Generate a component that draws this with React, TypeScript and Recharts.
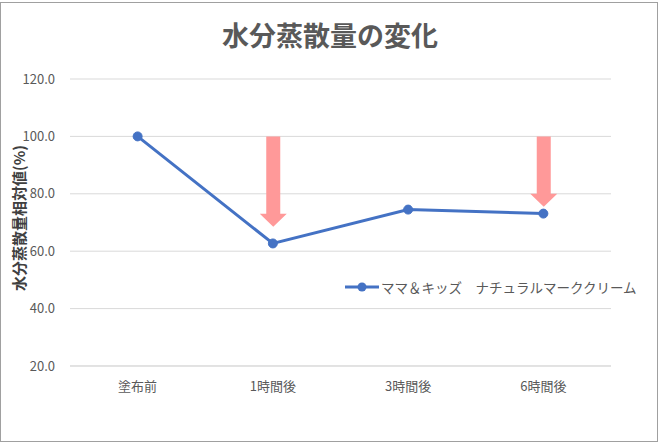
import { Bar, CartesianGrid, ComposedChart, Legend, Line, XAxis, YAxis } from "recharts";

const categories = ["塗布前", "1時間後", "3時間後", "6時間後"];
const seriesName = "ママ＆キッズ　ナチュラルマーククリーム";
const values = [100.0, 62.7, 74.5, 73.1];
// pink arrows: from arrowTop down to arrowTip (value units)
const arrowTop = [null, 100, null, 100];
const arrowTip = [null, 68.5, null, 75.5];
const yTicks = [20, 40, 60, 80, 100, 120];

const data = categories.map((name, i) => ({
  name,
  value: values[i],
  arrow: arrowTop[i] != null ? [arrowTip[i], arrowTop[i]] : undefined,
}));

const FONT = "'Noto Sans CJK JP', 'Noto Sans', sans-serif";
const TEXT = "#595959";

function ArrowShape(props: any) {
  const { x, y, width, height } = props;
  if (height == null || height <= 0) return null;
  const headH = 13;
  const headW = 27;
  const cx = x + width / 2;
  const bottom = y + height;
  const pts = [
    [x, y],
    [x + width, y],
    [x + width, bottom - headH],
    [cx + headW / 2, bottom - headH],
    [cx, bottom],
    [cx - headW / 2, bottom - headH],
    [x, bottom - headH],
  ]
    .map((p) => p.join(","))
    .join(" ");
  return <polygon points={pts} fill="#FF9999" />;
}

function LegendContent() {
  return (
    <div style={{ display: "flex", alignItems: "center", fontFamily: FONT, fontSize: 13.5, color: TEXT, whiteSpace: "nowrap" }}>
      <svg width={34} height={12} style={{ marginRight: 2 }}>
        <line x1={0} y1={6} x2={34} y2={6} stroke="#4472C4" strokeWidth={3} />
        <circle cx={17} cy={6} r={4.5} fill="#4472C4" />
      </svg>
      <span>{seriesName}</span>
    </div>
  );
}

export default function App() {
  return (
    <div style={{ position: "absolute", left: 0, top: 0, width: 660, height: 443, background: "#fff" }}>
      <div
        style={{
          position: "absolute",
          left: 0,
          top: 2,
          width: 658,
          height: 440,
          border: "1px solid #a0a0a0",
          boxSizing: "border-box",
        }}
      />
      <div
        style={{
          position: "absolute",
          left: 0,
          top: 16,
          width: 660,
          textAlign: "center",
          fontFamily: FONT,
          fontSize: 27,
          fontWeight: 700,
          color: TEXT,
          lineHeight: "38px",
        }}
      >
        水分蒸散量の変化
      </div>
      <ComposedChart
        width={660}
        height={443}
        data={data}
        margin={{ top: 79, right: 49, bottom: 47, left: 0 }}
        style={{ position: "absolute", left: 0, top: 0 }}
      >
        <CartesianGrid vertical={false} stroke="#d9d9d9" strokeWidth={1} />
        <XAxis
          dataKey="name"
          axisLine={{ stroke: "#d9d9d9" }}
          tickLine={false}
          tickMargin={10}
          height={30}
          tick={{ fill: TEXT, fontSize: 13, fontFamily: FONT }}
        />
        <YAxis
          width={70}
          domain={[20, 120]}
          ticks={yTicks}
          axisLine={false}
          tickLine={false}
          tickMargin={9}
          tickFormatter={(v: number) => v.toFixed(1)}
          tick={{ fill: TEXT, fontSize: 13, fontFamily: FONT }}
          label={{
            content: () => (
              <text
                x={18}
                y={218}
                transform="rotate(-90, 18, 218)"
                textAnchor="middle"
                dominantBaseline="central"
                fill="#404040"
                fontSize={15}
                fontWeight={700}
                fontFamily={FONT}
              >
                水分蒸散量相対値(%)
              </text>
            ),
          }}
        />
        <Legend
          layout="horizontal"
          verticalAlign="middle"
          align="center"
          content={<LegendContent />}
          wrapperStyle={{ left: 345, top: 277, width: "auto" }}
        />
        <Bar
          dataKey="arrow"
          barSize={14}
          shape={<ArrowShape />}
          legendType="none"
          isAnimationActive={false}
        />
        <Line
          type="linear"
          dataKey="value"
          name={seriesName}
          stroke="#4472C4"
          strokeWidth={3}
          dot={{ r: 4.5, fill: "#4472C4", stroke: "#4472C4", strokeWidth: 1 }}
          activeDot={false}
          isAnimationActive={false}
        />
      </ComposedChart>
    </div>
  );
}
